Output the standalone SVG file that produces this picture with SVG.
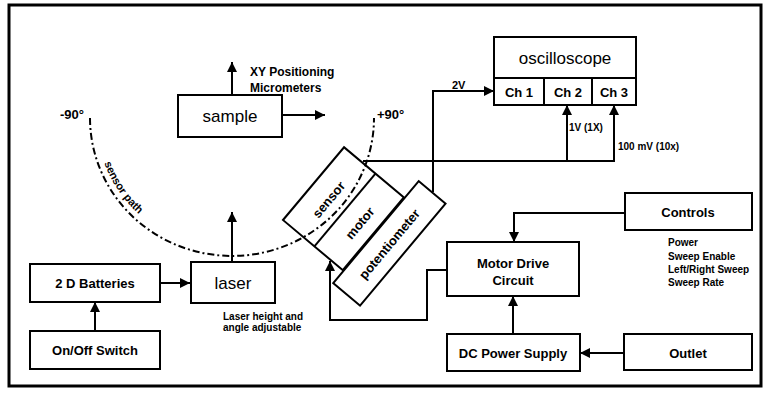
<svg xmlns="http://www.w3.org/2000/svg" width="767" height="394" viewBox="0 0 767 394">
  <style>
    text { font-family: "Liberation Sans", Arial, sans-serif; fill: #000; }
    .box { fill: #fff; stroke: #000; stroke-width: 2; }
    .wire { fill: none; stroke: #000; stroke-width: 2; }
    .arr { marker-end: url(#ah); }
    .lbl { font-size: 13px; font-weight: bold; text-anchor: middle; dominant-baseline: central; }
    .big { font-size: 17px; font-weight: normal; text-anchor: middle; dominant-baseline: central; }
    .note { font-size: 10px; font-weight: bold; }
    .path { fill: none; stroke: #000; stroke-width: 2; stroke-dasharray: 7 3 2 3; }
  </style>
  <defs>
    <marker id="ah" viewBox="0 0 10 10" refX="10" refY="5" markerUnits="userSpaceOnUse" markerWidth="10" markerHeight="10" orient="auto">
      <path d="M0,0 L10,5 L0,10 z" fill="#000"/>
    </marker>
    <path id="arcText" d="M96 118 A136 132 0 0 0 368 118"/>
  </defs>
  <rect x="9" y="5" width="752" height="381" fill="#fff" stroke="#000" stroke-width="3"/>

  <g id="connectors">
    <path class="wire arr" d="M232 95 V62"/>
    <path class="wire arr" d="M282 115 H325"/>
    <path class="wire arr" d="M232 262 V212"/>
    <path class="wire arr" d="M160 283 H190"/>
    <path class="wire arr" d="M95 331 V302"/>
    <path class="wire arr" d="M433 192 V91 H494"/>
    <path class="wire arr" d="M363 161 H614 V105"/>
    <path class="wire arr" d="M567 161 V105"/>
    <path class="wire arr" d="M625 213 H514 V242"/>
    <path class="wire arr" d="M447 270 H427 V320 H330 V261"/>
    <path class="wire arr" d="M513 334 V296"/>
    <path class="wire arr" d="M624 353 H580"/>
  </g>

  <g id="sample">
    <rect class="box" x="178" y="95" width="104" height="42"/>
    <text class="big" x="230" y="116">sample</text>
  </g>
  <g id="laser">
    <rect class="box" x="191" y="262" width="84" height="41"/>
    <text class="big" x="233" y="283">laser</text>
  </g>
  <g id="batteries">
    <rect class="box" x="30" y="264" width="130" height="38"/>
    <text class="lbl" x="95" y="283">2 D Batteries</text>
  </g>
  <g id="onoff">
    <rect class="box" x="30" y="331" width="130" height="38"/>
    <text class="lbl" x="95" y="350">On/Off Switch</text>
  </g>
  <g id="oscilloscope">
    <rect class="box" x="494" y="37" width="142" height="68"/>
    <line class="wire" x1="494" y1="78" x2="636" y2="78"/>
    <line class="wire" x1="544" y1="78" x2="544" y2="105"/>
    <line class="wire" x1="592" y1="78" x2="592" y2="105"/>
    <text class="big" x="565" y="58">oscilloscope</text>
    <text class="lbl" x="519" y="92">Ch 1</text>
    <text class="lbl" x="568" y="92">Ch 2</text>
    <text class="lbl" x="614" y="92">Ch 3</text>
  </g>
  <g id="controls">
    <rect class="box" x="625" y="193" width="127" height="37"/>
    <text class="lbl" x="688" y="212">Controls</text>
  </g>
  <g id="motordrive">
    <rect class="box" x="447" y="242" width="132" height="54"/>
    <text class="lbl" x="513" y="263">Motor Drive</text>
    <text class="lbl" x="513" y="280">Circuit</text>
  </g>
  <g id="dcpower">
    <rect class="box" x="447" y="334" width="133" height="37"/>
    <text class="lbl" x="513" y="353">DC Power Supply</text>
  </g>
  <g id="outlet">
    <rect class="box" x="624" y="334" width="128" height="36"/>
    <text class="lbl" x="688" y="353">Outlet</text>
  </g>
  <g id="sensor-motor" transform="translate(283,220) rotate(-50)">
    <rect class="box" x="0" y="0" width="95" height="78"/>
    <line class="wire" x1="0" y1="41" x2="95" y2="41"/>
    <text class="lbl" x="45" y="22">sensor</text>
    <text class="lbl" x="47" y="61">motor</text>
  </g>
  <g id="potentiometer" transform="translate(283,220) rotate(-50)">
    <rect class="box" x="-16" y="79" width="133" height="35"/>
    <text class="lbl" x="50" y="97">potentiometer</text>
  </g>

  <g id="sensor-path">
    <path class="path" d="M90 118 A142 138 0 0 0 374 118"/>
    <text style="font-size:11px;font-weight:bold"><textPath href="#arcText" startOffset="46">sensor path</textPath></text>
  </g>

  <g id="labels">
    <text x="250" y="76" style="font-size:12px;font-weight:bold">XY Positioning</text>
    <text x="250" y="92" style="font-size:12px;font-weight:bold">Micrometers</text>
    <text x="60" y="119" style="font-size:13px;font-weight:bold">-90°</text>
    <text x="377" y="119" style="font-size:13px;font-weight:bold">+90°</text>
    <text x="452" y="89" style="font-size:11px;font-weight:bold">2V</text>
    <text class="note" x="569" y="131">1V (1X)</text>
    <text class="note" x="618" y="150">100 mV (10x)</text>
    <text class="note" x="223" y="320">Laser height and</text>
    <text class="note" x="223" y="331">angle adjustable</text>
    <text class="note" x="668" y="246">Power</text>
    <text class="note" x="668" y="260">Sweep Enable</text>
    <text class="note" x="668" y="273">Left/Right Sweep</text>
    <text class="note" x="668" y="286">Sweep Rate</text>
  </g>
</svg>
